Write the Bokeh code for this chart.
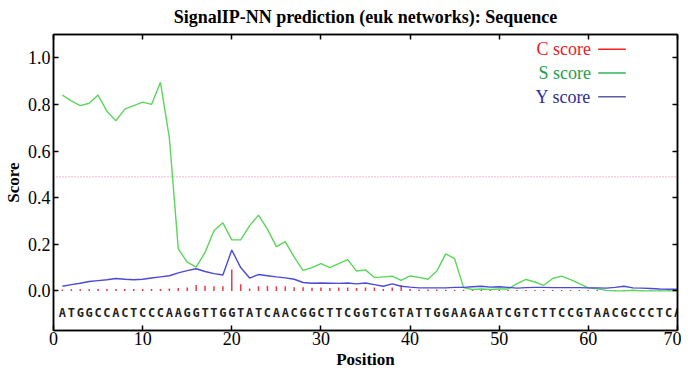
from bokeh.plotting import figure
from bokeh.models import LinearAxis, FixedTicker, Range1d, ColumnDataSource, Title
from bokeh.models.labeling import CustomLabelingPolicy
from bokeh.core.properties import value
from bokeh.embed import file_html
from bokeh.resources import INLINE

# ---------------- data ----------------
positions = list(range(1, 71))
sequence = list("ATGGCCACTCCCAAGGTTGGTATCAACGGCTTCGGTCGTATTGGAAGAATCGTCTTCCGTAACGCCCTCA")

c_score = [0.006, 0.007, 0.007, 0.007, 0.008, 0.008, 0.008, 0.008, 0.008, 0.008,
           0.008, 0.008, 0.010, 0.012, 0.015, 0.025, 0.022, 0.020, 0.020, 0.092,
           0.028, 0.010, 0.020, 0.022, 0.020, 0.020, 0.016, 0.016, 0.013, 0.015,
           0.012, 0.015, 0.015, 0.012, 0.015, 0.015, 0.008, 0.015, 0.025, 0.008,
           0.006, 0.006, 0.006, 0.005, 0.005, 0.005, 0.005, 0.005, 0.005, 0.005,
           0.004, 0.004, 0.004, 0.004, 0.004, 0.004, 0.004, 0.004, 0.004, 0.004,
           0.004, 0.004, 0.004, 0.004, 0.004, 0.004, 0.004, 0.004, 0.004, 0.004]

s_score = [0.840, 0.815, 0.795, 0.805, 0.840, 0.770, 0.730, 0.780, 0.795, 0.810,
           0.800, 0.895, 0.655, 0.180, 0.123, 0.102, 0.165, 0.258, 0.292, 0.219,
           0.219, 0.280, 0.325, 0.265, 0.190, 0.211, 0.145, 0.088, 0.100, 0.117,
           0.100, 0.117, 0.134, 0.085, 0.090, 0.057, 0.060, 0.063, 0.045, 0.064,
           0.058, 0.050, 0.085, 0.159, 0.138, 0.014, 0.006, 0.008, 0.006, 0.008,
           0.008, 0.031, 0.049, 0.038, 0.024, 0.053, 0.063, 0.048, 0.031, 0.013,
           0.009, 0.002, 0.000, 0.000, 0.003, 0.000, 0.000, 0.000, 0.000, 0.000]

y_score = [0.020, 0.027, 0.033, 0.040, 0.044, 0.048, 0.053, 0.050, 0.048, 0.050,
           0.055, 0.060, 0.065, 0.077, 0.087, 0.095, 0.083, 0.074, 0.068, 0.175,
           0.100, 0.055, 0.070, 0.065, 0.060, 0.056, 0.050, 0.036, 0.033, 0.034,
           0.033, 0.032, 0.034, 0.030, 0.034, 0.027, 0.020, 0.030, 0.020, 0.016,
           0.013, 0.013, 0.013, 0.013, 0.015, 0.015, 0.018, 0.020, 0.016, 0.018,
           0.015, 0.012, 0.014, 0.015, 0.015, 0.014, 0.014, 0.014, 0.014, 0.013,
           0.013, 0.012, 0.015, 0.020, 0.013, 0.012, 0.010, 0.008, 0.007, 0.007]

threshold = 0.49

x_ticks = [0, 10, 20, 30, 40, 50, 60, 70]
y_ticks = [0.0, 0.2, 0.4, 0.6, 0.8, 1.0]
y_tick_labels = {0.0: "0.0", 0.2: "0.2", 0.4: "0.4", 0.6: "0.6", 0.8: "0.8", 1.0: "1.0"}

legend_labels = ["C score", "S score", "Y score"]

# ---------------- styles ----------------
SERIF = "Liberation Serif"
C_LINE, S_LINE, Y_LINE = "#e83a48", "#5ad65a", "#4a4ad6"
C_TEXT, S_TEXT, Y_TEXT = "#e8202a", "#1f9e4e", "#2e2e96"
C_LEG, S_LEG, Y_LEG = "#ff2020", "#2eb35c", "#5c5ca8"

p = figure(width=681, height=368,
           x_range=Range1d(0, 70), y_range=Range1d(-0.17, 1.1),
           output_backend="svg", toolbar_location=None,
           min_border_left=40, min_border_right=2,
           min_border_top=0, min_border_bottom=0,
           background_fill_color="white", border_fill_color="white")

p.title.text = "SignalIP-NN prediction (euk networks): Sequence"
p.title.align = "center"
p.title.text_font = SERIF
p.title.text_font_size = "18px"
p.title.text_font_style = "bold"
p.title.text_color = "black"
p.title.standoff = 8
p.title.offset = 0

p.grid.visible = False
p.outline_line_color = "black"
p.outline_line_width = 1.5

no_labels = CustomLabelingPolicy(code="return new Set()")


def style_axis(ax, show_labels):
    ax.major_tick_in = 5
    ax.major_tick_out = 0
    ax.minor_tick_in = 0
    ax.minor_tick_out = 0
    ax.major_tick_line_color = "black"
    ax.major_tick_line_width = 1.5
    ax.axis_line_color = "black"
    ax.axis_line_width = 1.5
    if show_labels:
        ax.major_label_text_font = SERIF
        ax.major_label_text_font_size = "18px"
        ax.major_label_text_color = "black"
        ax.major_label_text_line_height = 1.0
        ax.axis_label_text_font = SERIF
        ax.axis_label_text_font_size = "17px"
        ax.axis_label_text_font_style = "bold"
        ax.axis_label_text_color = "black"
        ax.axis_label_text_line_height = 1.0
    else:
        ax.major_label_policy = no_labels
        ax.major_label_text_font_size = "1px"
        ax.major_label_standoff = 0


# bottom (tick labels; "Position" is a title under them)
xa = p.xaxis[0]
xa.ticker = FixedTicker(ticks=x_ticks)
style_axis(xa, True)
xa.major_label_standoff = 1

p.add_layout(Title(text="Position", align="center", text_font=SERIF,
                   text_font_size="17px", text_font_style="bold",
                   text_color="black", standoff=0, offset=0), "below")

# left
ya = p.yaxis[0]
ya.ticker = FixedTicker(ticks=y_ticks)
ya.major_label_overrides = y_tick_labels
ya.axis_label = "Score"
style_axis(ya, True)
ya.major_label_standoff = 3
ya.axis_label_standoff = 2

# top and right (ticks only)
top = LinearAxis(ticker=FixedTicker(ticks=x_ticks))
style_axis(top, False)
p.add_layout(top, "above")
right = LinearAxis(ticker=FixedTicker(ticks=y_ticks))
style_axis(right, False)
p.add_layout(right, "right")

src = ColumnDataSource(dict(x=positions, c=c_score, s=s_score, y=y_score,
                            zero=[0.0] * len(positions), seq=sequence))

# threshold line
p.line(x=[0, 70], y=[threshold, threshold], line_color="#f49ac4",
       line_width=1.5, line_dash="1 2")

# C score impulses
p.segment(x0="x", y0="zero", x1="x", y1="c", source=src,
          line_color=C_LINE, line_width=1.5)
# S and Y scores
p.line(x="x", y="s", source=src, line_color=S_LINE, line_width=1.4)
p.line(x="x", y="y", source=src, line_color=Y_LINE, line_width=1.4)

# sequence letters
p.text(x="x", y=-0.095, text="seq", source=src,
       text_font=value("DejaVu Sans Mono"), text_font_style="bold",
       text_font_size="12px", text_align="center", text_baseline="middle",
       text_color="#222222")

# legend
leg_y = [1.037, 0.935, 0.833]
leg_text_colors = [C_TEXT, S_TEXT, Y_TEXT]
leg_line_colors = [C_LEG, S_LEG, Y_LEG]
p.text(x=[60.3] * 3, y=leg_y, text=legend_labels,
       text_font=value(SERIF), text_font_size="18px",
       text_align="right", text_baseline="middle",
       text_color=leg_text_colors)
p.segment(x0=[61.1] * 3, y0=leg_y, x1=[64.2] * 3, y1=leg_y,
          line_color=leg_line_colors, line_width=1.5)

open("out.html", "w").write(file_html(p, INLINE))
